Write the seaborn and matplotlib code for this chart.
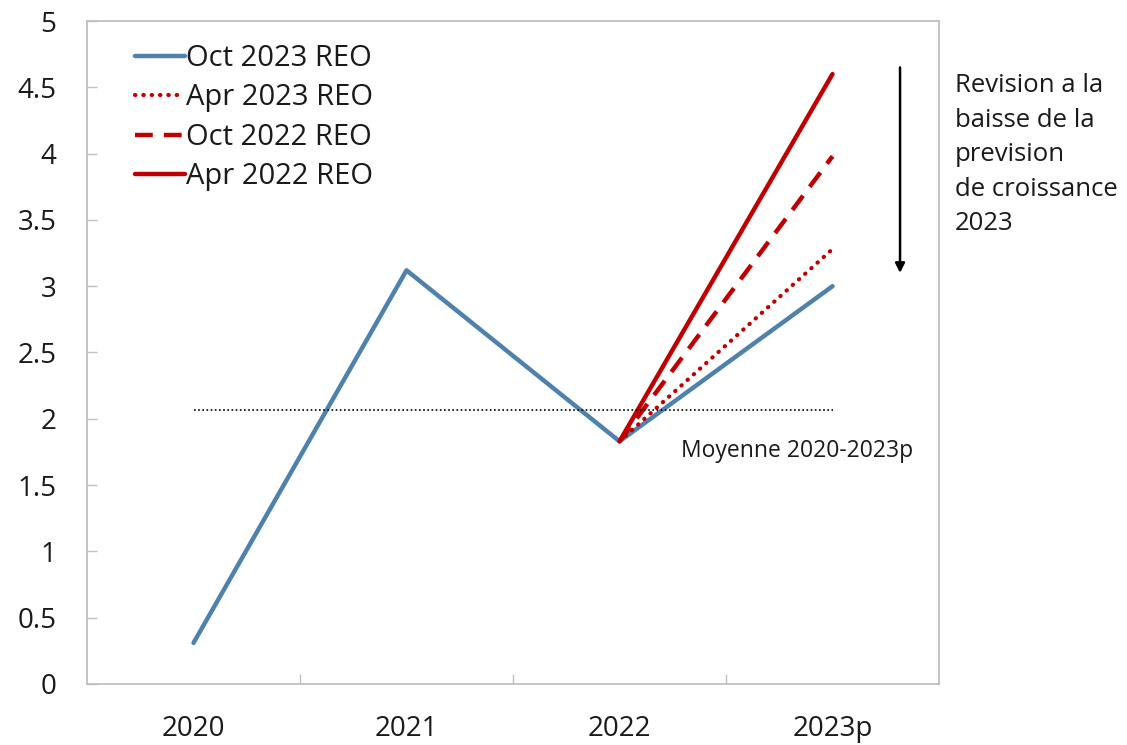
import matplotlib
matplotlib.use("Agg")
import matplotlib.pyplot as plt
import seaborn as sns
import numpy as np
import pandas as pd

years = ["2020", "2021", "2022", "2023p"]
oct2023 = [0.31, 3.12, 1.83, 3.0]
apr2023_years = ["2022", "2023p"]
apr2023 = [1.83, 3.28]
oct2022 = [1.83, 3.98]
apr2022 = [1.83, 4.60]
mean_value = 2.07
mean_label = "Moyenne 2020-2023p"
annotation = "Revision a la\nbaisse de la\nprevision\nde croissance\n2023"
yticks = [0, 0.5, 1, 1.5, 2, 2.5, 3, 3.5, 4, 4.5, 5]

sns.set_theme(style="white")
plt.rcParams['font.family'] = ['Open Sans', 'DejaVu Sans']

fig = plt.figure(figsize=(11.27, 7.45), dpi=100)
ax = fig.add_axes([0.0772, 0.0819, 0.7560, 0.8899])

pos = {y: i for i, y in enumerate(years)}
BLUE = "#4f81ad"
RED = "#c00000"

sns.lineplot(x=[pos[y] for y in years], y=oct2023, ax=ax, color=BLUE, lw=3.2,
             label="Oct 2023 REO", solid_capstyle="round")
x_fc = [pos[y] for y in apr2023_years]
sns.lineplot(x=x_fc, y=apr2023, ax=ax, color=RED, lw=3.0, linestyle=(0, (0.1, 1.9)),
             dash_capstyle="round", label="Apr 2023 REO")
sns.lineplot(x=x_fc, y=oct2022, ax=ax, color=RED, lw=3.2, linestyle=(0, (4, 2.5)),
             label="Oct 2022 REO")
sns.lineplot(x=x_fc, y=apr2022, ax=ax, color=RED, lw=3.2, label="Apr 2022 REO")

sns.lineplot(x=list(range(len(years))), y=[mean_value] * len(years), ax=ax,
             color="black", lw=1.2, linestyle=(0, (1, 1.5)), legend=False)

ax.text(2.29, 1.76, mean_label, fontsize=16.5, va="center", ha="left", color="#1a1a1a")

ax.annotate("", xy=(3.317, 3.10), xytext=(3.317, 4.65),
            arrowprops=dict(arrowstyle="-|>", color="black", lw=1.8,
                            mutation_scale=14, shrinkA=0, shrinkB=0))

fig.text(0.847, 0.902, annotation, fontsize=18.5, va="top", ha="left",
         linespacing=1.5, color="#1a1a1a")

ax.set_xlim(-0.5, 3.5)
ax.set_ylim(0, 5)
ax.set_xticks(range(len(years)))
ax.set_xticklabels(years)
ax.set_xticks([0.5, 1.5, 2.5], minor=True)
ax.set_yticks(yticks)
ax.set_yticklabels([f"{v:g}" for v in yticks])
ax.tick_params(axis="x", which="major", length=0, labelsize=20, pad=22, labelcolor="#1a1a1a")
ax.tick_params(axis="x", which="minor", direction="in", length=7, width=1, color="#bfbfbf", bottom=True)
ax.tick_params(axis="y", which="major", direction="in", length=7, width=1, color="#bfbfbf",
               labelsize=20, pad=22, labelcolor="#1a1a1a", left=True)
for s in ax.spines.values():
    s.set_color("#bfbfbf")
    s.set_linewidth(1.3)
    s.set_visible(True)
ax.set_xlabel("")
ax.set_ylabel("")

leg = ax.legend(loc="upper left", bbox_to_anchor=(0.043, 0.983), frameon=False,
                fontsize=21, handlelength=1.7, handletextpad=0.05, labelspacing=0.36,
                borderaxespad=0)
for t in leg.get_texts():
    t.set_color("#1a1a1a")

fig.savefig("out.png", dpi=100)
